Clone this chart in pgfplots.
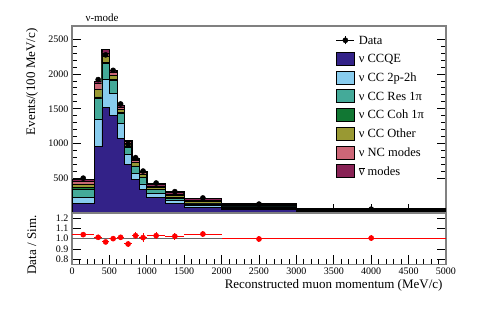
\documentclass[border=0pt]{standalone}
\usepackage{fontspec}
\setmainfont{Liberation Serif}
\usepackage{pgfplots}
\usepackage{pgfplotstable}
\pgfplotsset{compat=1.18}

% Tol muted palette
\definecolor{cQE}{HTML}{332288}
\definecolor{cTPH}{HTML}{88CCEE}
\definecolor{cRES}{HTML}{44AA99}
\definecolor{cCOH}{HTML}{117733}
\definecolor{cOTH}{HTML}{999933}
\definecolor{cNC}{HTML}{CC6677}
\definecolor{cANU}{HTML}{882255}

% left bin edges, events/(100 MeV/c) per component
\pgfplotstableread{
x    qe   tph  res  coh  oth  nc  anu
0    140  78   129  15   57   38  25
300  961  380  312  17   103  96  25
400  1514 404  231  19   86   48  48
500  1404 312  192  14   58   48  24
600  1068 225  135  14   48   33  25
700  693  144  101  14   44   29  18
800  477  95   97   8    54   24  19
900  333  86   87   14   43   18  16
1000 226  58   49   9    28   19  30
1250 140  40   35   12   28   20  25
1500 82   25   24   9    26   16  25
2000 55   15   18   6    18   8   8
3000 22   6    8    3    8    4   4
5000 22   6    8    3    8    4   4
}\mc

\pgfplotstableread{
x    y
150  501
350  1919
450  2275
550  2052
650  1568
750  989
850  796
950  603
1125 431
1375 307
1750 216
2500 128
4000 55
}\data

\pgfplotstableread{
x    r     ex   ey
150  1.039 150  0.026
350  1.013 50   0.023
450  0.968 50   0.021
550  1.000 50   0.022
650  1.013 50   0.025
750  0.948 50   0.032
850  1.029 50   0.036
950  1.010 50   0.041
1125 1.029 125  0.031
1375 1.023 125  0.036
1750 1.045 250  0.030
2500 0.997 500  0.028
4000 1.006 1000 0.030
}\ratio

\pgfplotsset{
  panel/.style={
    scale only axis, width=374pt,
    xmin=0, xmax=5000,
    axis line style={gray, line width=1.2pt},
    tick style={black, line width=0.8pt},
    tick align=inside,
    major tick length=9pt, minor tick length=5pt,
    xtick pos=lower,
    xtick={0,500,...,5000}, minor x tick num=4,
    tick label style={font=\fontsize{10}{11}\selectfont},
    /pgf/number format/assume math mode=true,
    /pgf/number format/1000 sep={},
  },
  hist/.style={const plot mark left, draw=black, line width=0.7pt, fill=#1, forget plot},
  box/.style={legend image code/.code={\draw[fill=#1, draw=black, line width=0.8pt] (0pt,-5.5pt) rectangle (18pt,7.5pt);}},
}

\begin{document}
\begin{tikzpicture}
\useasboundingbox (0,0) rectangle (483pt,327pt);

\begin{axis}[panel,
  at={(72pt,114pt)}, anchor=south west, height=187pt,
  ymin=0, ymax=2690,
  ytick={500,1000,...,2500}, minor y tick num=4,
  xticklabels={},
  legend style={at={(rel axis cs:0.705,0.952)}, anchor=north west,
    draw=none, fill=none, inner sep=0pt,
    font=\fontsize{12.5}{14}\selectfont,
    nodes={inner sep=0pt, text height=9pt, text depth=3.2pt},
    row sep=4.7pt,
    /tikz/every odd column/.append style={column sep=4pt}},
  legend cell align=left,
]
  \addplot[hist=cANU, line width=1.5pt] table[x=x, y expr=\thisrow{qe}+\thisrow{tph}+\thisrow{res}+\thisrow{coh}+\thisrow{oth}+\thisrow{nc}+\thisrow{anu}] {\mc} \closedcycle;
  \addplot[hist=cNC] table[x=x, y expr=\thisrow{qe}+\thisrow{tph}+\thisrow{res}+\thisrow{coh}+\thisrow{oth}+\thisrow{nc}] {\mc} \closedcycle;
  \addplot[hist=cOTH] table[x=x, y expr=\thisrow{qe}+\thisrow{tph}+\thisrow{res}+\thisrow{coh}+\thisrow{oth}] {\mc} \closedcycle;
  \addplot[hist=cCOH] table[x=x, y expr=\thisrow{qe}+\thisrow{tph}+\thisrow{res}+\thisrow{coh}] {\mc} \closedcycle;
  \addplot[hist=cRES] table[x=x, y expr=\thisrow{qe}+\thisrow{tph}+\thisrow{res}] {\mc} \closedcycle;
  \addplot[hist=cTPH] table[x=x, y expr=\thisrow{qe}+\thisrow{tph}] {\mc} \closedcycle;
  \addplot[hist=cQE] table[x=x, y=qe] {\mc} \closedcycle;

  \addplot[only marks, mark=*, mark size=2.6pt, black, forget plot] table[x=x, y=y] {\data};

  \addlegendimage{legend image code/.code={
    \draw[black, line width=1pt] (0pt,1pt) -- (18pt,1pt);
    \draw[black, line width=1pt] (9pt,-3pt) -- (9pt,5pt);
    \fill[black] (9pt,1pt) circle (2.6pt);}}
  \addlegendentry{Data}
  \addlegendimage{box=cQE}  \addlegendentry{ν CCQE}
  \addlegendimage{box=cTPH} \addlegendentry{ν CC 2p-2h}
  \addlegendimage{box=cRES} \addlegendentry{ν CC Res 1π}
  \addlegendimage{box=cCOH} \addlegendentry{ν CC Coh 1π}
  \addlegendimage{box=cOTH} \addlegendentry{ν CC Other}
  \addlegendimage{box=cNC}  \addlegendentry{ν NC modes}
  \addlegendimage{box=cANU} \addlegendentry{\ensuremath{\overline{\mbox{ν}}} modes}
\end{axis}

\begin{axis}[panel,
  at={(72pt,62.7pt)}, anchor=south west, height=51.3pt,
  ymin=0.75, ymax=1.25,
  ytick={0.8,0.9,1.0,1.1,1.2},
  yticklabel style={/pgf/number format/.cd, fixed, fixed zerofill, precision=1},
]
  \addplot[gray!80!black, line width=1.6pt] coordinates {(0,1) (5000,1)};
  \addplot[red, only marks, mark=*, mark size=2.6pt,
    error bars/.cd, x dir=both, x explicit, y dir=both, y explicit,
    error bar style={red, line width=1pt}, error mark=none]
    table[x=x, y=r, x error=ex, y error=ey] {\ratio};
\end{axis}

\node[rotate=90, anchor=east, font=\fontsize{13}{15}\selectfont] at (32pt,302pt) {Events/(100 MeV/c)};
\node[rotate=90, anchor=east, font=\fontsize{13}{15}\selectfont] at (32pt,115pt) {Data / Sim.};
\node[anchor=east, font=\fontsize{13}{15}\selectfont] at (446pt,42pt) {Reconstructed muon momentum (MeV/c)};
\node[anchor=base west, font=\fontsize{11}{13}\selectfont] at (82pt,305pt) {ν-mode};
\end{tikzpicture}
\end{document}
